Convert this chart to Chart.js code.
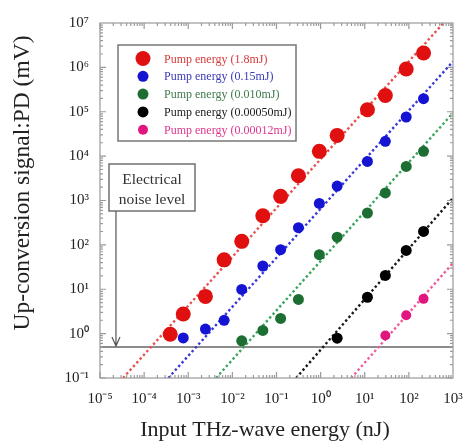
<!DOCTYPE html>
<html>
<head>
<meta charset="utf-8">
<script src="https://cdn.jsdelivr.net/npm/chart.js@4.4.1/dist/chart.umd.min.js"></script>
<style>
  html, body { margin: 0; padding: 0; background: #fff; }
</style>
</head>
<body>
<canvas id="chart" width="470" height="442"></canvas>
<script>
// Valeurs (nJ -> mV)
const seriesNames = ['Pump energy (1.8mJ)', 'Pump energy (0.15mJ)', 'Pump energy (0.010mJ)',
                     'Pump energy (0.00050mJ)', 'Pump energy (0.00012mJ)'];

const redX = [3.9e-4, 7.7e-4, 2.45e-3, 6.5e-3, 0.0163, 0.049, 0.124, 0.314, 0.935, 2.37, 11.5, 29.3, 87, 215];
const redY = [0.97, 2.77, 6.9, 46, 120, 454, 1240, 3620, 12800, 29300, 111000, 233000, 919000, 2.11e6];

const blueX = [7.7e-4, 2.45e-3, 6.5e-3, 0.0163, 0.049, 0.124, 0.314, 0.935, 2.37, 11.5, 29.3, 87, 215];
const blueY = [0.80, 1.27, 1.99, 9.9, 33.4, 77.8, 244, 861, 2120, 7600, 21500, 76200, 197000];

const greenX = [0.0163, 0.049, 0.124, 0.314, 0.935, 2.37, 11.5, 29.3, 87, 215];
const greenY = [0.69, 1.18, 2.2, 5.9, 60, 149, 523, 1480, 5870, 12800];

const blackX = [2.37, 11.5, 29.3, 87, 215];
const blackY = [0.79, 6.6, 20.5, 75, 201];

const pinkX = [29.3, 87, 215];
const pinkY = [0.91, 2.6, 6.07];

// droites d'ajustement (extrémités)
const fitX0 = [3.33e-5, 3.54e-4, 4.27e-3, 0.278, 4.92];
const fitY0 = [0.1, 0.1, 0.1, 0.1, 0.1];
const fitX1 = [610, 1000, 1000, 1000, 1000];
const fitY1 = [1e7, 1.36e6, 9.4e4, 1140, 39];

const noiseLevel = 0.5;
const arrowX = 2.3e-5;

const xTickValues = [1e-5, 1e-4, 1e-3, 1e-2, 1e-1, 1, 10, 100, 1000];
const xTickLabels = ['10⁻⁵', '10⁻⁴', '10⁻³', '10⁻²', '10⁻¹', '10⁰', '10¹', '10²', '10³'];
const yTickValues = [1e-1, 1, 10, 100, 1e3, 1e4, 1e5, 1e6, 1e7];
const yTickLabels = ['10⁻¹', '10⁰', '10¹', '10²', '10³', '10⁴', '10⁵', '10⁶', '10⁷'];

const xTitle = 'Input THz-wave energy (nJ)';
const yTitle = 'Up-conversion signal:PD (mV)';

const pointColors = ['#e01010', '#1414d2', '#1d6e32', '#000000', '#e2167f'];
const lineColors = ['#e8504e', '#3838d6', '#3aa45c', '#1a1a1a', '#f05a9c'];
const textColors = ['#d83a3a', '#3a3ab8', '#3f7a4c', '#1a1a1a', '#e0368e'];
const pointSizes = [7.5, 5.5, 5.5, 5.5, 5];

const serif = "'Liberation Serif', 'Times New Roman', serif";

const seriesX = [redX, blueX, greenX, blackX, pinkX];
const seriesY = [redY, blueY, greenY, blackY, pinkY];

const datasets = [];
seriesX.forEach((xs, i) => {
  datasets.push({
    label: seriesNames[i],
    data: xs.map((x, j) => ({ x: x, y: seriesY[i][j] })),
    backgroundColor: pointColors[i],
    borderColor: pointColors[i],
    pointRadius: pointSizes[i],
    borderWidth: 0,
    showLine: false,
    order: 0
  });
});
fitX0.forEach((x0, i) => {
  datasets.push({
    label: 'fit' + i,
    data: [{ x: x0, y: fitY0[i] }, { x: fitX1[i], y: fitY1[i] }],
    borderColor: lineColors[i],
    borderWidth: 2.4,
    borderDash: [2.4, 2.6],
    pointRadius: 0,
    showLine: true,
    order: 1
  });
});
datasets.push({
  label: 'noise',
  data: [{ x: 1e-5, y: noiseLevel }, { x: 1e3, y: noiseLevel }],
  borderColor: '#8c8c8c',
  borderWidth: 2,
  pointRadius: 0,
  showLine: true,
  order: 2
});

// cadre, graduations, titres, légende et annotation
const decor = {
  id: 'decor',
  afterDatasetsDraw(chart) {
    const ctx = chart.ctx;
    const { left, right, top, bottom } = chart.chartArea;
    const xs = chart.scales.x, ys = chart.scales.y;
    ctx.save();
    ctx.strokeStyle = '#9a9a9a';
    ctx.lineWidth = 1.2;
    ctx.strokeRect(left, top, right - left, bottom - top);

    ctx.beginPath();
    for (let e = -5; e < 3; e++) {
      for (let k = 1; k < 10; k++) {
        const px = xs.getPixelForValue(k * Math.pow(10, e));
        const len = k === 1 ? 6 : 3;
        ctx.moveTo(px, bottom); ctx.lineTo(px, bottom - len);
        ctx.moveTo(px, top); ctx.lineTo(px, top + len);
      }
    }
    for (let e = -1; e < 7; e++) {
      for (let k = 1; k < 10; k++) {
        const py = ys.getPixelForValue(k * Math.pow(10, e));
        const len = k === 1 ? 6 : 3;
        ctx.moveTo(left, py); ctx.lineTo(left + len, py);
        ctx.moveTo(right, py); ctx.lineTo(right - len, py);
      }
    }
    ctx.stroke();

    // titres des axes
    ctx.fillStyle = '#222';
    ctx.textAlign = 'center';
    ctx.textBaseline = 'middle';
    ctx.font = '22px ' + serif;
    ctx.fillText(xTitle, 265, 430);
    ctx.save();
    ctx.translate(23, 183);
    ctx.rotate(-Math.PI / 2);
    ctx.font = '23.5px ' + serif;
    ctx.fillText(yTitle, 0, 0);
    ctx.restore();

    // légende
    ctx.strokeStyle = '#777';
    ctx.lineWidth = 1.5;
    ctx.fillStyle = '#fff';
    ctx.fillRect(118, 45, 178, 96);
    ctx.strokeRect(118, 45, 178, 96);
    ctx.font = '12px ' + serif;
    ctx.textAlign = 'left';
    seriesNames.forEach((name, i) => {
      const y = 58.5 + i * 17.8;
      ctx.beginPath();
      ctx.fillStyle = pointColors[i];
      ctx.arc(143, y, pointSizes[i], 0, Math.PI * 2);
      ctx.fill();
      ctx.fillStyle = textColors[i];
      ctx.fillText(name, 164, y + 1);
    });

    // niveau de bruit
    ctx.strokeStyle = '#707070';
    ctx.lineWidth = 1.5;
    ctx.strokeRect(109, 164, 86, 47);
    ctx.fillStyle = '#333';
    ctx.font = '15.5px ' + serif;
    ctx.textAlign = 'center';
    ctx.fillText('Electrical', 152, 180);
    ctx.fillText('noise level', 152, 200);

    const ax = xs.getPixelForValue(arrowX);
    const ay = ys.getPixelForValue(noiseLevel);
    ctx.strokeStyle = '#555';
    ctx.lineWidth = 1.2;
    ctx.beginPath();
    ctx.moveTo(ax, 211); ctx.lineTo(ax, ay - 1);
    ctx.moveTo(ax - 4, ay - 10); ctx.lineTo(ax, ay - 1); ctx.lineTo(ax + 4, ay - 10);
    ctx.stroke();
    ctx.restore();
  }
};

new Chart(document.getElementById('chart'), {
  type: 'scatter',
  data: { datasets: datasets },
  options: {
    responsive: false,
    animation: false,
    devicePixelRatio: 1,
    layout: { padding: { left: 0, right: 17, top: 23, bottom: 0 } },
    plugins: { legend: { display: false }, tooltip: { enabled: false } },
    scales: {
      x: {
        type: 'logarithmic',
        min: 1e-5,
        max: 1e3,
        afterBuildTicks: s => { s.ticks = xTickValues.map(v => ({ value: v })); },
        afterFit: s => { s.height = 64; },
        grid: { display: false },
        border: { display: false },
        ticks: {
          autoSkip: false,
          maxRotation: 0,
          padding: 4,
          color: '#222',
          font: { family: serif, size: 15 },
          callback: v => xTickLabels[xTickValues.indexOf(v)]
        }
      },
      y: {
        type: 'logarithmic',
        min: 1e-1,
        max: 1e7,
        afterBuildTicks: s => { s.ticks = yTickValues.map(v => ({ value: v })); },
        afterFit: s => { s.width = 100; },
        grid: { display: false },
        border: { display: false },
        ticks: {
          autoSkip: false,
          padding: 3,
          color: '#222',
          font: { family: serif, size: 15 },
          callback: v => yTickLabels[yTickValues.indexOf(v)]
        }
      }
    }
  },
  plugins: [decor]
});
</script>
</body>
</html>
